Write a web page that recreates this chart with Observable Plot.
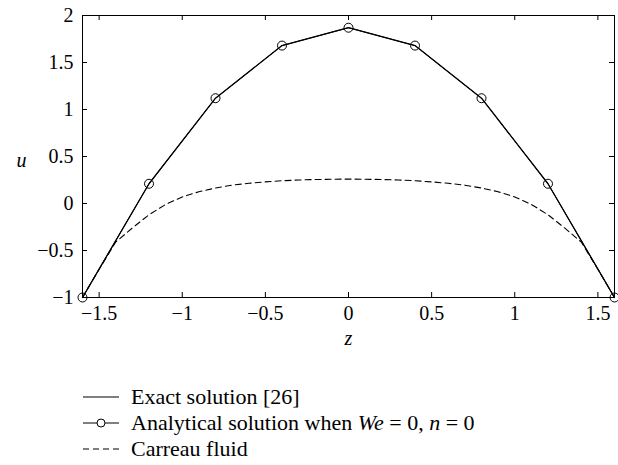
<!DOCTYPE html>
<html>
<head>
<meta charset="utf-8">
<script src="https://cdn.jsdelivr.net/npm/d3@7"></script>
<script src="https://cdn.jsdelivr.net/npm/@observablehq/plot@0.6"></script>
<style>
  body { margin: 0; background: white; font-family: "Liberation Serif", "DejaVu Serif", serif; }
  #legend { margin-top: 14px; font-size: 22px; color: black; font-family: "Liberation Serif", "DejaVu Serif", serif; }
  .row { display: flex; align-items: center; height: 26px; }
  .row svg { margin-left: 83px; margin-right: 12px; }
  #chart svg text { font-family: "Liberation Serif", "DejaVu Serif", serif; }
</style>
</head>
<body>
<div id="chart"></div>
<div id="legend"></div>
<script>
// Data
const zPoints = [-1.6, -1.2, -0.8, -0.4, 0, 0.4, 0.8, 1.2, 1.6];
const exactU = [-1, 0.21, 1.12, 1.68, 1.87, 1.68, 1.12, 0.21, -1];
const analyticalU = [-1, 0.21, 1.12, 1.68, 1.87, 1.68, 1.12, 0.21, -1];
const carreauZ = [-1.6, -1.5, -1.4, -1.3, -1.2, -1.1, -1.0, -0.9, -0.8, -0.7, -0.6, -0.5, -0.4, -0.3, -0.2, -0.1, 0,
                  0.1, 0.2, 0.3, 0.4, 0.5, 0.6, 0.7, 0.8, 0.9, 1.0, 1.1, 1.2, 1.3, 1.4, 1.5, 1.6];
const carreauU = [-1, -0.70, -0.41, -0.26, -0.12, -0.01, 0.07, 0.125, 0.165, 0.195, 0.215, 0.23, 0.242, 0.25, 0.255, 0.258, 0.26,
                  0.258, 0.255, 0.25, 0.242, 0.23, 0.215, 0.195, 0.165, 0.125, 0.07, -0.01, -0.12, -0.26, -0.41, -0.70, -1];
const xTicks = [-1.5, -1, -0.5, 0, 0.5, 1, 1.5];
const yTicks = [-1, -0.5, 0, 0.5, 1, 1.5, 2];
const legendLabels = ["Exact solution [26]", "Analytical solution when <i>We</i> = 0, <i>n</i> = 0", "Carreau fluid"];

const exact = zPoints.map((z, i) => ({z, u: exactU[i]}));
const analytical = zPoints.map((z, i) => ({z, u: analyticalU[i]}));
const carreau = carreauZ.map((z, i) => ({z, u: carreauU[i]}));

const W = 618, H = 370, mL = 82, mR = 4, mT = 15, mB = 73;
const frameW = W - mL - mR, frameH = H - mT - mB, tick = 5;
const fmt = d3.format("~g");

const chart = Plot.plot({
  width: W,
  height: H,
  marginLeft: mL,
  marginRight: mR,
  marginTop: mT,
  marginBottom: mB,
  x: {domain: [-1.6, 1.6]},
  y: {domain: [-1, 2]},
  style: {fontFamily: "Liberation Serif, DejaVu Serif, serif", fontSize: "20px", color: "black", background: "white", overflow: "visible"},
  marks: [
    Plot.axisX(xTicks, {anchor: "bottom", tickSize: 0, tickPadding: 8, label: null, tickFormat: fmt, fontSize: 20}),
    Plot.axisY(yTicks, {anchor: "left", tickSize: 0, tickPadding: 9, label: null, tickFormat: fmt, fontSize: 20}),
    Plot.tickX(xTicks, {x: d => d, insetTop: frameH - tick, stroke: "black"}),
    Plot.tickX(xTicks, {x: d => d, insetBottom: frameH - tick, stroke: "black"}),
    Plot.tickY(yTicks, {y: d => d, insetRight: frameW - tick, stroke: "black"}),
    Plot.tickY(yTicks, {y: d => d, insetLeft: frameW - tick, stroke: "black"}),
    Plot.frame({stroke: "black", strokeWidth: 1}),
    Plot.line(carreau, {x: "z", y: "u", stroke: "black", strokeWidth: 1.1, strokeDasharray: "6,4"}),
    Plot.line(exact, {x: "z", y: "u", stroke: "black", strokeWidth: 1.3}),
    Plot.line(analytical, {x: "z", y: "u", stroke: "black", strokeWidth: 1}),
    Plot.dot(analytical, {x: "z", y: "u", r: 4.5, stroke: "black", fill: "none", strokeWidth: 1}),
    Plot.text(["u"], {frameAnchor: "left", dx: -66, dy: 4, fontStyle: "italic", fontSize: 20}),
    Plot.text(["z"], {frameAnchor: "bottom", dy: 47, fontStyle: "italic", fontSize: 20})
  ]
});
document.getElementById("chart").appendChild(chart);

// Legend
const legend = document.getElementById("legend");
const samples = [
  `<line x1="0" x2="36" y1="13" y2="13" stroke="black" stroke-width="1.1"/>`,
  `<line x1="0" x2="36" y1="13" y2="13" stroke="black" stroke-width="1.1"/><circle cx="18" cy="13" r="4" fill="white" stroke="black"/>`,
  `<line x1="0" x2="36" y1="13" y2="13" stroke="black" stroke-width="1.1" stroke-dasharray="6,4"/>`
];
legendLabels.forEach((lab, i) => {
  const row = document.createElement("div");
  row.className = "row";
  row.innerHTML = `<svg width="36" height="26">${samples[i]}</svg><span>${lab}</span>`;
  legend.appendChild(row);
});
</script>
</body>
</html>
